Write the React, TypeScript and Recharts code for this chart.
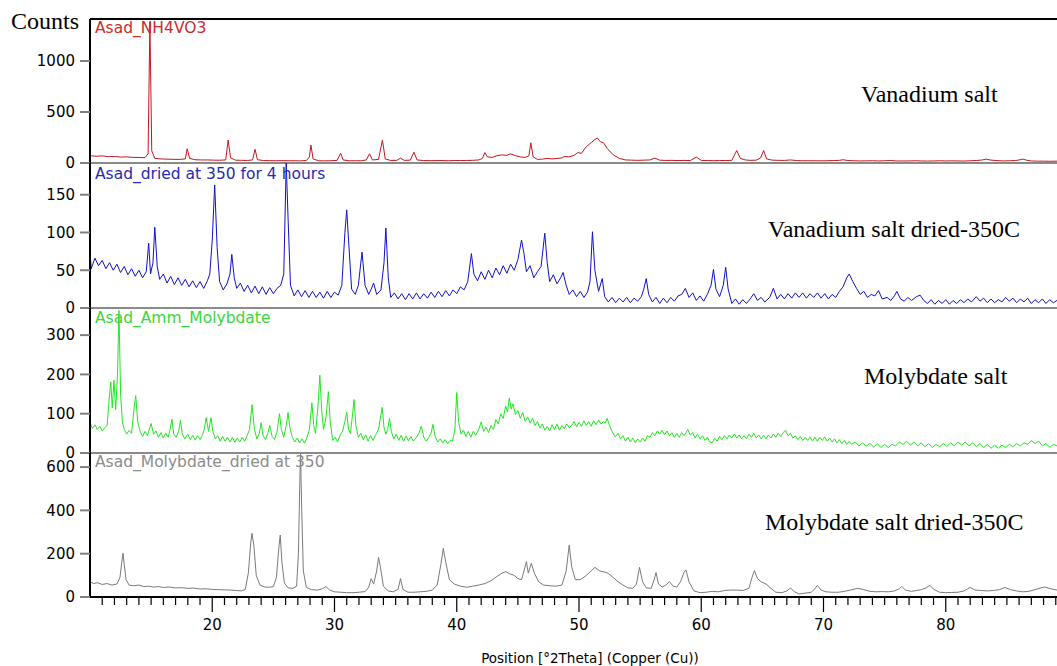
import { LineChart, Line, XAxis, YAxis, ReferenceLine } from "recharts";

type Pt = [number, number];

// 2theta range and axis ticks
const xDomain: [number, number] = [10, 89.1];
const xTicks = [
  11, 12, 13, 14, 15, 16, 17, 18, 19, 20, 21, 22, 23, 24, 25, 26, 27, 28, 29, 30,
  31, 32, 33, 34, 35, 36, 37, 38, 39, 40, 41, 42, 43, 44, 45, 46, 47, 48, 49, 50,
  51, 52, 53, 54, 55, 56, 57, 58, 59, 60, 61, 62, 63, 64, 65, 66, 67, 68, 69, 70,
  71, 72, 73, 74, 75, 76, 77, 78, 79, 80, 81, 82, 83, 84, 85, 86, 87, 88, 89,
];
const xLabels = [20, 30, 40, 50, 60, 70, 80];

const vanadiumTicks = [0, 500, 1000];
const vanadiumDriedTicks = [0, 50, 100, 150];
const molybdateTicks = [0, 100, 200, 300];
const molybdateDriedTicks = [0, 200, 400, 600];

// Asad_NH4VO3 (counts vs 2theta)
const vanadiumSalt: Pt[] = [
  [10, 72], [10.5, 66], [11, 70], [11.5, 62], [12, 64], [12.5, 58], [13, 60], [13.5, 55], [14, 54], [14.5, 52],
  [14.75, 90], [14.9, 1380], [15.05, 120], [15.3, 45], [15.8, 40], [16.3, 38], [16.8, 36], [17.3, 35], [17.8, 40],
  [17.95, 140], [18.15, 45], [18.6, 32], [19.1, 30], [19.6, 30], [20.1, 28], [20.6, 27], [21.1, 30], [21.3, 225],
  [21.5, 50], [21.9, 28], [22.4, 26], [22.9, 25], [23.3, 30], [23.5, 135], [23.7, 32], [24.2, 24], [24.7, 23],
  [25.2, 22], [25.7, 23], [26.2, 22], [26.7, 22], [27.2, 21], [27.7, 24], [27.95, 60], [28.07, 176], [28.25, 40],
  [28.7, 22], [29.2, 21], [29.7, 22], [30.2, 25], [30.5, 95], [30.7, 30], [31.2, 22], [31.7, 22], [32.2, 22],
  [32.6, 30], [32.87, 90], [33.1, 30], [33.6, 35], [33.92, 224], [34.15, 40], [34.6, 25], [35.1, 26], [35.4, 48],
  [35.7, 26], [36.2, 28], [36.5, 106], [36.75, 30], [37.3, 24], [37.8, 23], [38.3, 23], [38.8, 24], [39.3, 22],
  [39.8, 24], [40.3, 24], [40.8, 25], [41.3, 26], [41.8, 30], [42.1, 45], [42.3, 102], [42.5, 60], [42.9, 55],
  [43.3, 72], [43.7, 80], [44.1, 75], [44.4, 90], [44.8, 72], [45.2, 60], [45.6, 55], [45.9, 70], [46.06, 198],
  [46.25, 60], [46.6, 35], [47.0, 38], [47.4, 45], [47.8, 40], [48.2, 45], [48.6, 50], [48.8, 64], [49.2, 60],
  [49.6, 75], [49.9, 102], [50.2, 95], [50.6, 160], [51.0, 200], [51.3, 230], [51.5, 245], [51.75, 208], [52.0, 200],
  [52.3, 144], [52.8, 80], [53.3, 45], [53.8, 30], [54.3, 28], [54.8, 26], [55.3, 28], [55.8, 30], [56.2, 48],
  [56.6, 28], [57.1, 25], [57.6, 26], [58.1, 24], [58.6, 25], [59.1, 24], [59.6, 58], [60.0, 26], [60.5, 24],
  [61.0, 23], [61.5, 24], [62.0, 24], [62.5, 26], [62.9, 122], [63.2, 45], [63.6, 30], [64.0, 26], [64.5, 28],
  [64.85, 50], [65.1, 122], [65.35, 40], [65.8, 28], [66.3, 26], [66.8, 25], [67.3, 30], [67.8, 24], [68.3, 22],
  [68.8, 22], [69.3, 22], [69.8, 21], [70.3, 22], [70.8, 24], [71.3, 26], [71.6, 32], [72.0, 24], [72.5, 22],
  [73.0, 20], [73.5, 21], [74.0, 22], [74.5, 20], [75.0, 22], [75.5, 24], [76.0, 20], [76.5, 20], [77.0, 20],
  [77.5, 22], [78.0, 20], [78.5, 19], [79.0, 20], [79.5, 22], [80.0, 20], [80.5, 21], [81.0, 20], [81.5, 19],
  [82.0, 22], [82.5, 24], [83.0, 30], [83.3, 38], [83.7, 28], [84.2, 24], [84.7, 20], [85.2, 22], [85.7, 24],
  [86.0, 30], [86.3, 38], [86.6, 28], [87.0, 20], [87.5, 18], [88.0, 18], [88.5, 17], [89.1, 18],
];

// Asad_dried at 350 for 4 hours
const vanadiumDried: Pt[] = [
  [10.0, 74], [10.1, 52], [10.4, 66], [10.7, 56], [11.0, 63], [11.3, 52], [11.6, 60], [11.9, 50], [12.2, 58],
  [12.5, 47], [12.8, 55], [13.1, 44], [13.4, 52], [13.7, 42], [14.0, 50], [14.3, 40], [14.6, 48], [14.8, 86],
  [14.95, 45], [15.15, 60], [15.3, 107], [15.5, 55], [15.7, 38], [16.0, 45], [16.3, 33], [16.6, 42], [16.9, 31],
  [17.2, 40], [17.5, 30], [17.8, 38], [18.1, 28], [18.4, 36], [18.7, 27], [19.0, 35], [19.3, 26], [19.6, 36],
  [19.8, 45], [20.0, 90], [20.2, 163], [20.4, 80], [20.6, 35], [20.9, 24], [21.2, 32], [21.45, 45], [21.6, 71],
  [21.8, 40], [22.0, 26], [22.3, 33], [22.6, 22], [22.9, 30], [23.2, 20], [23.5, 29], [23.8, 19], [24.1, 28],
  [24.4, 18], [24.7, 27], [25.0, 19], [25.3, 26], [25.6, 30], [25.85, 45], [26.05, 192], [26.2, 120], [26.4, 30],
  [26.7, 16], [27.0, 24], [27.3, 15], [27.6, 23], [27.9, 14], [28.2, 22], [28.5, 14], [28.8, 21], [29.1, 13],
  [29.4, 22], [29.7, 14], [30.0, 21], [30.3, 17], [30.6, 30], [30.85, 100], [31.0, 130], [31.15, 90], [31.4, 25],
  [31.7, 18], [31.95, 30], [32.25, 74], [32.5, 30], [32.8, 18], [33.0, 25], [33.2, 33], [33.45, 18], [33.8, 24],
  [34.05, 60], [34.2, 106], [34.4, 40], [34.6, 14], [34.9, 20], [35.2, 12], [35.5, 19], [35.8, 11], [36.1, 19],
  [36.4, 12], [36.7, 20], [37.0, 12], [37.3, 19], [37.6, 13], [37.9, 21], [38.2, 14], [38.5, 22], [38.8, 15],
  [39.1, 23], [39.4, 16], [39.7, 24], [40.0, 19], [40.3, 28], [40.6, 24], [40.9, 35], [41.2, 72], [41.4, 45],
  [41.7, 36], [42.0, 48], [42.3, 38], [42.6, 50], [42.9, 40], [43.2, 53], [43.5, 44], [43.8, 56], [44.1, 46],
  [44.4, 58], [44.7, 50], [45.0, 64], [45.3, 90], [45.5, 72], [45.7, 48], [46.0, 56], [46.3, 40], [46.6, 48],
  [46.9, 55], [47.2, 99], [47.4, 60], [47.6, 35], [47.9, 44], [48.2, 32], [48.5, 40], [48.7, 47], [48.95, 30],
  [49.2, 18], [49.5, 24], [49.8, 15], [50.1, 22], [50.4, 14], [50.7, 21], [50.9, 35], [51.1, 101], [51.3, 50],
  [51.6, 22], [51.9, 39], [52.1, 15], [52.4, 8], [52.7, 14], [53.0, 7], [53.3, 13], [53.6, 8], [53.9, 14],
  [54.2, 7], [54.5, 13], [54.8, 9], [55.1, 15], [55.3, 25], [55.5, 39], [55.7, 18], [56.0, 8], [56.3, 14],
  [56.6, 6], [56.9, 13], [57.2, 7], [57.5, 14], [57.8, 9], [58.1, 16], [58.4, 18], [58.7, 26], [59.0, 14],
  [59.3, 20], [59.6, 10], [59.9, 16], [60.2, 9], [60.5, 18], [60.8, 30], [61.0, 51], [61.2, 25], [61.5, 15],
  [61.8, 30], [62.0, 54], [62.2, 25], [62.5, 6], [62.8, 12], [63.1, 5], [63.4, 11], [63.7, 6], [64.0, 12],
  [64.3, 19], [64.6, 10], [64.9, 14], [65.2, 8], [65.6, 14], [65.9, 26], [66.2, 12], [66.5, 18], [66.8, 12],
  [67.1, 19], [67.4, 13], [67.7, 20], [68.0, 14], [68.3, 20], [68.6, 13], [68.9, 19], [69.2, 14], [69.5, 20],
  [69.8, 13], [70.1, 19], [70.4, 12], [70.7, 18], [71.0, 14], [71.3, 22], [71.6, 28], [71.9, 40], [72.1, 45],
  [72.4, 35], [72.7, 26], [73.0, 18], [73.3, 22], [73.6, 14], [73.9, 18], [74.2, 16], [74.5, 23], [74.8, 12],
  [75.2, 14], [75.5, 10], [75.8, 16], [76.0, 22], [76.3, 12], [76.6, 9], [76.9, 14], [77.2, 10], [77.6, 15],
  [77.9, 17], [78.2, 10], [78.5, 6], [78.8, 11], [79.1, 5], [79.4, 10], [79.7, 6], [80.0, 11], [80.3, 5],
  [80.6, 10], [80.9, 6], [81.2, 11], [81.5, 7], [81.8, 12], [82.1, 8], [82.5, 15], [82.8, 9], [83.1, 13],
  [83.4, 7], [83.7, 12], [84.0, 7], [84.3, 11], [84.6, 8], [84.9, 14], [85.2, 9], [85.5, 13], [85.8, 7],
  [86.1, 12], [86.4, 8], [86.7, 13], [87.0, 6], [87.3, 11], [87.6, 7], [87.9, 12], [88.2, 6], [88.5, 11],
  [88.8, 7], [89.1, 10],
];

// Asad_Amm_Molybdate
const molybdateSalt: Pt[] = [
  [10.0, 78], [10.2, 62], [10.4, 72], [10.6, 60], [10.8, 68], [11.0, 56], [11.2, 64], [11.4, 70], [11.6, 150],
  [11.7, 181], [11.82, 115], [11.96, 185], [12.1, 110], [12.25, 200], [12.37, 363], [12.5, 150], [12.65, 79],
  [12.8, 60], [13.0, 48], [13.2, 58], [13.4, 50], [13.6, 113], [13.74, 146], [13.9, 80], [14.1, 55], [14.3, 42],
  [14.5, 55], [14.7, 44], [14.85, 60], [15.0, 75], [15.2, 48], [15.4, 56], [15.6, 40], [15.8, 52], [16.0, 38],
  [16.2, 50], [16.4, 40], [16.55, 60], [16.7, 86], [16.85, 48], [17.05, 40], [17.25, 55], [17.4, 83], [17.55, 48],
  [17.75, 36], [18.0, 48], [18.2, 34], [18.4, 45], [18.6, 33], [18.8, 44], [19.0, 34], [19.2, 46], [19.35, 60],
  [19.5, 90], [19.7, 55], [19.9, 90], [20.05, 55], [20.25, 36], [20.45, 44], [20.65, 30], [20.85, 42], [21.05, 30],
  [21.25, 40], [21.45, 28], [21.65, 40], [21.85, 27], [22.05, 38], [22.25, 28], [22.45, 40], [22.65, 30],
  [22.85, 44], [23.05, 60], [23.25, 123], [23.45, 60], [23.65, 36], [23.85, 50], [24.0, 77], [24.15, 45],
  [24.35, 34], [24.55, 50], [24.7, 70], [24.9, 42], [25.1, 34], [25.3, 55], [25.5, 100], [25.65, 60], [25.85, 40],
  [26.05, 70], [26.2, 103], [26.35, 65], [26.55, 40], [26.75, 28], [26.95, 38], [27.15, 26], [27.35, 36],
  [27.55, 25], [27.75, 40], [27.95, 60], [28.15, 128], [28.3, 70], [28.45, 50], [28.65, 120], [28.8, 198],
  [28.95, 110], [29.1, 60], [29.3, 90], [29.5, 156], [29.65, 80], [29.85, 32], [30.05, 40], [30.25, 28],
  [30.45, 44], [30.65, 55], [30.85, 80], [31.0, 104], [31.15, 60], [31.3, 50], [31.45, 90], [31.6, 136],
  [31.75, 70], [31.95, 40], [32.15, 50], [32.35, 34], [32.55, 46], [32.75, 30], [32.95, 44], [33.15, 32],
  [33.35, 45], [33.6, 60], [33.9, 116], [34.05, 65], [34.2, 48], [34.35, 60], [34.5, 88], [34.65, 55], [34.85, 36],
  [35.05, 48], [35.25, 32], [35.45, 45], [35.65, 30], [35.85, 43], [36.05, 31], [36.25, 42], [36.45, 30],
  [36.7, 40], [36.9, 50], [37.1, 68], [37.3, 40], [37.5, 30], [37.7, 40], [37.9, 50], [38.05, 73], [38.25, 40],
  [38.45, 28], [38.65, 36], [38.85, 26], [39.05, 34], [39.25, 24], [39.45, 32], [39.65, 30], [39.85, 60],
  [40.0, 154], [40.15, 80], [40.35, 48], [40.55, 58], [40.75, 42], [40.95, 55], [41.15, 40], [41.35, 55],
  [41.55, 45], [41.8, 60], [42.0, 79], [42.2, 55], [42.4, 66], [42.6, 52], [42.8, 70], [43.0, 60], [43.2, 85],
  [43.4, 74], [43.6, 100], [43.8, 88], [44.0, 120], [44.15, 105], [44.3, 140], [44.45, 112], [44.6, 125],
  [44.8, 98], [45.0, 108], [45.2, 88], [45.4, 103], [45.6, 80], [45.8, 92], [46.0, 76], [46.2, 88], [46.4, 70],
  [46.6, 80], [46.8, 64], [47.0, 74], [47.2, 58], [47.4, 68], [47.6, 56], [47.8, 72], [48.0, 60], [48.2, 74],
  [48.4, 58], [48.6, 70], [48.8, 62], [49.0, 74], [49.2, 64], [49.4, 70], [49.6, 80], [49.8, 66], [50.0, 78],
  [50.2, 68], [50.4, 82], [50.6, 70], [50.8, 80], [51.0, 68], [51.2, 82], [51.4, 72], [51.6, 84], [51.8, 74],
  [52.0, 80], [52.15, 76], [52.3, 88], [52.5, 70], [52.7, 55], [52.96, 41], [53.2, 50], [53.4, 36], [53.6, 44],
  [53.8, 30], [54.0, 40], [54.2, 28], [54.4, 38], [54.6, 26], [54.8, 36], [55.0, 28], [55.2, 38], [55.4, 30],
  [55.6, 44], [55.8, 40], [56.0, 52], [56.2, 44], [56.4, 56], [56.6, 48], [56.8, 58], [57.0, 46], [57.2, 56],
  [57.4, 44], [57.6, 52], [57.8, 40], [58.0, 50], [58.2, 40], [58.4, 52], [58.6, 44], [58.9, 60], [59.1, 46],
  [59.3, 52], [59.5, 38], [59.7, 48], [59.9, 36], [60.1, 44], [60.3, 32], [60.5, 40], [60.7, 28], [60.9, 26],
  [61.1, 38], [61.3, 30], [61.5, 42], [61.7, 34], [61.9, 44], [62.1, 36], [62.3, 46], [62.5, 38], [62.7, 48],
  [62.9, 38], [63.1, 46], [63.3, 36], [63.5, 44], [63.7, 36], [63.9, 48], [64.1, 40], [64.3, 50], [64.5, 38],
  [64.7, 46], [64.9, 36], [65.1, 45], [65.3, 36], [65.5, 46], [65.7, 38], [65.9, 48], [66.1, 40], [66.3, 50],
  [66.5, 42], [66.7, 52], [66.9, 58], [67.1, 44], [67.3, 50], [67.5, 38], [67.7, 44], [67.9, 34], [68.1, 42],
  [68.3, 32], [68.5, 40], [68.7, 32], [68.9, 41], [69.1, 31], [69.3, 40], [69.5, 30], [69.7, 40], [69.9, 32],
  [70.1, 41], [70.3, 30], [70.5, 38], [70.7, 28], [70.9, 36], [71.1, 26], [71.3, 34], [71.5, 24], [71.7, 32],
  [71.9, 22], [72.1, 30], [72.3, 22], [72.6, 28], [72.9, 18], [73.2, 26], [73.5, 17], [73.8, 25], [74.1, 15],
  [74.4, 24], [74.7, 14], [75.0, 22], [75.3, 14], [75.6, 22], [75.9, 18], [76.2, 28], [76.5, 22], [76.8, 30],
  [77.1, 20], [77.4, 28], [77.7, 18], [78.0, 26], [78.3, 16], [78.6, 24], [78.9, 14], [79.2, 22], [79.5, 16],
  [79.8, 24], [80.1, 17], [80.4, 26], [80.7, 18], [81.0, 28], [81.3, 20], [81.6, 28], [81.9, 18], [82.2, 26],
  [82.5, 16], [82.8, 24], [83.1, 14], [83.4, 22], [83.7, 12], [84.0, 20], [84.3, 12], [84.6, 20], [84.9, 14],
  [85.2, 22], [85.5, 16], [85.8, 24], [86.1, 18], [86.4, 26], [86.7, 22], [87.0, 32], [87.3, 24], [87.6, 30],
  [87.9, 18], [88.2, 24], [88.5, 14], [88.8, 22], [89.1, 18],
];

// Asad_Molybdate_dried at 350
const molybdateDried: Pt[] = [
  [10.0, 70], [10.3, 62], [10.6, 66], [11.0, 58], [11.4, 62], [11.8, 55], [12.2, 60], [12.45, 90], [12.6, 160],
  [12.7, 202], [12.8, 150], [12.95, 80], [13.2, 55], [13.6, 52], [14.0, 55], [14.4, 48], [14.8, 50], [15.2, 46],
  [15.6, 48], [16.0, 44], [16.5, 46], [17.0, 42], [17.5, 43], [18.0, 40], [18.5, 41], [19.0, 37], [19.5, 38],
  [20.0, 35], [20.5, 34], [21.0, 33], [21.5, 32], [22.0, 30], [22.4, 28], [22.7, 35], [22.95, 110], [23.15, 250],
  [23.25, 294], [23.4, 240], [23.6, 100], [23.9, 55], [24.3, 46], [24.7, 45], [25.0, 48], [25.25, 90],
  [25.45, 230], [25.56, 286], [25.7, 160], [25.9, 65], [26.2, 42], [26.6, 40], [26.9, 50], [27.05, 200],
  [27.15, 500], [27.22, 665], [27.32, 400], [27.45, 120], [27.7, 45], [28.1, 34], [28.6, 32], [29.0, 38],
  [29.3, 48], [29.6, 32], [30.0, 24], [30.5, 22], [31.0, 20], [31.5, 20], [32.0, 22], [32.5, 25], [32.8, 45],
  [33.0, 85], [33.2, 60], [33.45, 120], [33.6, 183], [33.75, 140], [34.0, 50], [34.4, 28], [34.8, 24], [35.2, 35],
  [35.4, 85], [35.6, 35], [36.0, 22], [36.5, 22], [37.0, 24], [37.5, 26], [38.0, 32], [38.4, 55], [38.7, 150],
  [38.9, 225], [39.1, 160], [39.4, 80], [39.8, 60], [40.3, 50], [40.8, 45], [41.3, 50], [41.8, 55], [42.3, 62],
  [42.8, 75], [43.3, 95], [43.7, 110], [44.0, 117], [44.3, 108], [44.7, 100], [45.0, 85], [45.3, 80], [45.5, 120],
  [45.7, 163], [45.85, 110], [46.1, 156], [46.35, 110], [46.7, 70], [47.1, 55], [47.6, 52], [48.1, 50], [48.6, 55],
  [48.95, 120], [49.2, 240], [49.4, 140], [49.7, 80], [50.1, 80], [50.5, 95], [50.9, 115], [51.3, 137],
  [51.7, 120], [52.1, 115], [52.4, 109], [52.8, 90], [53.2, 70], [53.6, 55], [54.0, 42], [54.4, 40], [54.7, 60],
  [54.95, 137], [55.2, 70], [55.5, 42], [55.9, 40], [56.15, 80], [56.3, 113], [56.5, 60], [56.8, 46], [57.1, 55],
  [57.4, 71], [57.7, 50], [58.0, 46], [58.3, 70], [58.6, 115], [58.75, 125], [59.0, 70], [59.4, 28], [59.9, 20],
  [60.4, 22], [60.9, 26], [61.4, 24], [61.9, 30], [62.4, 32], [62.9, 32], [63.4, 30], [63.9, 40], [64.15, 90],
  [64.35, 122], [64.6, 85], [64.9, 70], [65.3, 60], [65.7, 40], [66.1, 22], [66.6, 20], [67.0, 28], [67.3, 42],
  [67.6, 25], [68.0, 14], [68.5, 18], [69.0, 22], [69.3, 38], [69.5, 54], [69.8, 32], [70.2, 24], [70.7, 22],
  [71.2, 22], [71.7, 26], [72.2, 32], [72.8, 40], [73.3, 34], [73.8, 26], [74.3, 24], [74.8, 25], [75.3, 24],
  [75.8, 28], [76.2, 38], [76.4, 49], [76.7, 32], [77.2, 26], [77.6, 30], [78.0, 34], [78.4, 42], [78.7, 54],
  [79.0, 36], [79.5, 22], [80.0, 20], [80.5, 21], [81.0, 22], [81.5, 28], [81.98, 44], [82.4, 32], [82.9, 30],
  [83.4, 28], [83.9, 30], [84.4, 34], [84.84, 44], [85.3, 34], [85.8, 28], [86.3, 24], [86.8, 26], [87.3, 34],
  [87.8, 42], [88.1, 46], [88.6, 38], [89.1, 32],
];

const FONT = "DejaVu Sans";
const SERIF = "Liberation Serif";
const PAD = 10;

function XTick(props: any) {
  const { x, y, payload } = props;
  const v = payload.value as number;
  const major = xLabels.includes(v);
  return (
    <g>
      <line x1={x} x2={x} y1={y} y2={y + (major ? 15 : 8)} stroke="#000" strokeWidth={1.2} />
      {major && (
        <text x={x} y={y + 33} textAnchor="middle" fontSize={15} fontFamily={FONT} fill="#000">
          {v}
        </text>
      )}
    </g>
  );
}

interface PanelProps {
  data: Pt[];
  color: string;
  max: number;
  ticks: number[];
  top: number; // y of plot top
  height: number; // plot height
  axis?: boolean;
  border?: boolean;
}

function Panel({ data, color, max, ticks, top, height, axis = false, border = false }: PanelProps) {
  const rows = data.map(([x, y]) => ({ x, y }));
  const padTop = Math.min(PAD, top);
  const bottom = axis ? 0 : PAD;
  const axisH = axis ? 40 : 0;
  return (
    <div style={{ position: "absolute", left: 0, top: top - padTop }}>
      <LineChart
        width={1057}
        height={height + padTop + bottom + axisH}
        data={rows}
        margin={{ top: padTop, right: 0, bottom, left: 0 }}
      >
        <XAxis
          type="number"
          dataKey="x"
          domain={xDomain}
          allowDataOverflow
          hide={!axis}
          ticks={xTicks}
          interval={0}
          height={axisH}
          tickSize={0}
          tickMargin={0}
          tickLine={false}
          tick={<XTick />}
          axisLine={{ stroke: "#000", strokeWidth: 2 }}
        />
        <YAxis
          width={90}
          domain={[0, max]}
          allowDataOverflow
          ticks={ticks}
          interval={0}
          tickSize={10}
          tickMargin={5}
          tickLine={{ stroke: "#808080", strokeWidth: 2 }}
          axisLine={{ stroke: "#000", strokeWidth: 2 }}
          tick={{ fontSize: 15, fontFamily: FONT, fill: "#000" }}
        />
        {!axis && <ReferenceLine y={0} stroke="#8a8a8a" strokeWidth={2} />}
        {border && <ReferenceLine y={max} stroke="#000" strokeWidth={2} />}
        <Line
          type="linear"
          dataKey="y"
          stroke={color}
          strokeWidth={1}
          dot={false}
          isAnimationActive={false}
        />
      </LineChart>
    </div>
  );
}

export default function App() {
  return (
    <div style={{ position: "absolute", left: 0, top: 0, width: 1057, height: 666, background: "#fff", overflow: "hidden" }}>
      <Panel data={vanadiumSalt} color="#c4161c" max={1412} ticks={vanadiumTicks} top={19} height={144} border />
      <Panel data={vanadiumDried} color="#1010c8" max={192} ticks={vanadiumDriedTicks} top={163} height={145} />
      <Panel data={molybdateSalt} color="#22e622" max={369} ticks={molybdateTicks} top={308} height={145} />
      <Panel data={molybdateDried} color="#7a7a7a" max={665} ticks={molybdateDriedTicks} top={453} height={144} axis />
      <svg width={1057} height={666} style={{ position: "absolute", left: 0, top: 0, pointerEvents: "none" }}>
        <text x={11} y={29} fontSize={24} fontFamily={SERIF} fill="#000">Counts</text>
        <text x={95} y={33} fontSize={15.5} fontFamily={FONT} fill="#cc2b2b">Asad_NH4VO3</text>
        <text x={95} y={179} fontSize={15.5} fontFamily={FONT} fill="#2a2aae">Asad_dried at 350 for 4 hours</text>
        <text x={95} y={323} fontSize={15.5} fontFamily={FONT} fill="#3ad63a">Asad_Amm_Molybdate</text>
        <text x={95} y={467} fontSize={15.5} fontFamily={FONT} fill="#8c8c8c">Asad_Molybdate_dried at 350</text>
        <text x={861} y={102} fontSize={24} fontFamily={SERIF} fill="#000">Vanadium salt</text>
        <text x={768} y={237} fontSize={24} fontFamily={SERIF} fill="#000">Vanadium salt dried-350C</text>
        <text x={864} y={384} fontSize={24} fontFamily={SERIF} fill="#000">Molybdate salt</text>
        <text x={765} y={530} fontSize={24} fontFamily={SERIF} fill="#000">Molybdate salt dried-350C</text>
        <text x={590} y={663} textAnchor="middle" fontSize={13.5} fontFamily={FONT} fill="#000">
          Position [°2Theta] (Copper (Cu))
        </text>
      </svg>
    </div>
  );
}
